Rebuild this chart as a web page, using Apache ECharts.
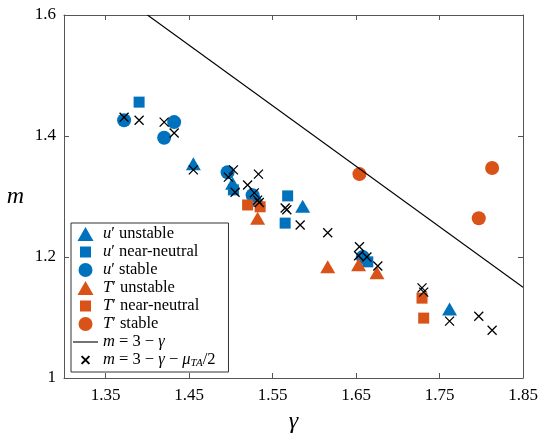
<!DOCTYPE html>
<html><head><meta charset="utf-8">
<script src="https://cdn.jsdelivr.net/npm/echarts@6/dist/echarts.min.js"></script>
<style>html,body{margin:0;padding:0;background:#fff}#c{width:543px;height:437px}</style>
</head><body><div id="c"></div>
<script>
const xTicks = [1.35, 1.45, 1.55, 1.65, 1.75, 1.85];
const yTicks = [1, 1.2, 1.4, 1.6];

const uUnstable = [[1.455,1.354],[1.502,1.322],[1.533,1.294],[1.586,1.284],[1.762,1.114]];
const uNeutral  = [[1.390,1.456],[1.503,1.311],[1.568,1.301],[1.565,1.256],[1.664,1.192]];
const uStable   = [[1.372,1.426],[1.420,1.397],[1.432,1.423],[1.496,1.340],[1.526,1.302],[1.658,1.200]];
const tUnstable = [[1.532,1.264],[1.616,1.184],[1.653,1.187],[1.675,1.174]];
const tNeutral  = [[1.520,1.286],[1.535,1.283],[1.729,1.132],[1.731,1.099]];
const tStable   = [[1.654,1.337],[1.813,1.347],[1.797,1.264]];
const lineGamma = [1.40, 1.85];
const lineM     = [1.60, 1.15];
const crossPts  = [[1.372,1.431],[1.390,1.426],[1.420,1.423],[1.432,1.405],
  [1.455,1.344],[1.503,1.344],[1.497,1.332],[1.533,1.337],[1.520,1.319],[1.505,1.307],
  [1.528,1.306],[1.532,1.294],[1.534,1.290],
  [1.565,1.281],[1.567,1.278],[1.583,1.253],[1.616,1.240],
  [1.654,1.217],[1.653,1.202],[1.663,1.200],[1.676,1.185],
  [1.729,1.149],[1.731,1.142],[1.762,1.094],[1.797,1.102],[1.813,1.079]];

const BLUE = '#0072BD', ORANGE = '#D95319';
const SERIF = 'Liberation Serif';
const AX = '#555';
const crossPath = 'path://M0,0L10,10M10,0L0,10';
const crossIcon = 'path://M-4,-4L-4,-4M0,0L10,10M10,0L0,10M14,14L14,14';
const triIcon = 'path://M0,14L8,0L16,14Z';
const rectIcon = 'path://M-1.5,-1.5L-1.5,-1.5M0,0L11,0L11,11L0,11ZM12.5,12.5L12.5,12.5';
const lineIcon = 'path://M0,0L25,0L25,1.1L0,1.1Z';

const names = {
  uU: '{i|u}{n|\u2032 unstable}',
  uN: '{i|u}{n|\u2032 near-neutral}',
  uS: '{i|u}{n|\u2032 stable}',
  tU: '{i|T}{n|\u2032 unstable}',
  tN: '{i|T}{n|\u2032 near-neutral}',
  tS: '{i|T}{n|\u2032 stable}',
  ln: '{i|m}{n| = 3 \u2212 }{i|\u03b3}',
  cr: '{i|m}{n| = 3 \u2212 }{i|\u03b3}{n| \u2212 }{i|\u03bc}{s|TA}{n|/2}'
};

const chart = echarts.init(document.getElementById('c'));
const xCommon = {
  type: 'value', min: 1.30, max: 1.85,
  axisLine: { show: true, lineStyle: { color: AX, width: 1 } },
  splitLine: { show: false },
  axisTick: { inside: true, length: 5, customValues: xTicks, lineStyle: { color: AX } }
};
const yCommon = {
  type: 'value', min: 1, max: 1.6,
  axisLine: { show: true, lineStyle: { color: AX, width: 1 } },
  splitLine: { show: false },
  axisTick: { inside: true, length: 5, customValues: yTicks, lineStyle: { color: AX } }
};
chart.setOption({
  animation: false,
  backgroundColor: '#fff',
  grid: { left: 64, right: 20, top: 15, bottom: 59, containLabel: false, outerBoundsMode: 'none' },
  xAxis: [
    Object.assign({}, xCommon, {
      position: 'bottom',
      axisLabel: { customValues: xTicks, formatter: v => v.toFixed(2), margin: 9,
        fontFamily: SERIF, fontSize: 17, color: '#000' },
      name: '\u03b3', nameLocation: 'middle', nameGap: 32,
      nameTextStyle: { fontFamily: SERIF, fontStyle: 'italic', fontSize: 24, color: '#000' }
    }),
    Object.assign({}, xCommon, { position: 'top', axisLabel: { show: false } })
  ],
  yAxis: [
    Object.assign({}, yCommon, {
      position: 'left',
      axisLabel: { customValues: yTicks, formatter: v => String(+v.toFixed(1)), margin: 8,
        fontFamily: SERIF, fontSize: 17, color: '#000' },
      name: 'm', nameLocation: 'middle', nameGap: 40, nameRotate: 0,
      nameTextStyle: { fontFamily: SERIF, fontStyle: 'italic', fontSize: 24, color: '#000' }
    }),
    Object.assign({}, yCommon, { position: 'right', axisLabel: { show: false } })
  ],
  legend: {
    orient: 'vertical', left: 71, top: 223,
    backgroundColor: '#fff', borderColor: '#333', borderWidth: 1, borderRadius: 0,
    padding: [2, 13, 3, 2], itemGap: 0, itemWidth: 25, itemHeight: 14,
    symbolKeepAspect: true,
    data: [
      { name: 'uU', icon: triIcon }, { name: 'uN', icon: rectIcon }, { name: 'uS', icon: 'circle' },
      { name: 'tU', icon: triIcon }, { name: 'tN', icon: rectIcon }, { name: 'tS', icon: 'circle' },
      { name: 'ln', icon: lineIcon }, { name: 'cr', icon: crossIcon }
    ],
    formatter: n => names[n],
    textStyle: {
      color: '#000', fontFamily: SERIF, fontSize: 16, lineHeight: 18,
      rich: {
        i: { fontFamily: SERIF, fontStyle: 'italic', fontSize: 16.5, color: '#000', lineHeight: 18 },
        n: { fontFamily: SERIF, fontSize: 16.5, color: '#000', lineHeight: 18 },
        s: { fontFamily: SERIF, fontStyle: 'italic', fontSize: 11, color: '#000', padding: [7, 0, 0, 0] }
      }
    }
  },
  series: [
    { name: 'uU', type: 'scatter', data: uUnstable, symbol: 'triangle', symbolSize: [15, 13], itemStyle: { color: BLUE, opacity: 1 } },
    { name: 'uN', type: 'scatter', data: uNeutral, symbol: 'rect', symbolSize: 11, itemStyle: { color: BLUE, opacity: 1 } },
    { name: 'uS', type: 'scatter', data: uStable, symbol: 'circle', symbolSize: 14, itemStyle: { color: BLUE, opacity: 1 } },
    { name: 'tU', type: 'scatter', data: tUnstable, symbol: 'triangle', symbolSize: [15, 13], itemStyle: { color: ORANGE, opacity: 1 } },
    { name: 'tN', type: 'scatter', data: tNeutral, symbol: 'rect', symbolSize: 11, itemStyle: { color: ORANGE, opacity: 1 } },
    { name: 'tS', type: 'scatter', data: tStable, symbol: 'circle', symbolSize: 14, itemStyle: { color: ORANGE, opacity: 1 } },
    { name: 'ln', type: 'line', data: lineGamma.map((g, i) => [g, lineM[i]]), symbol: 'none',
      lineStyle: { color: '#000', width: 1.1 }, itemStyle: { color: '#000' } },
    { name: 'cr', type: 'scatter', data: crossPts, symbol: crossPath, symbolSize: 9,
      itemStyle: { color: 'rgba(0,0,0,0)', borderColor: '#000', borderWidth: 1.3, opacity: 1 } }
  ]
});
</script></body></html>
